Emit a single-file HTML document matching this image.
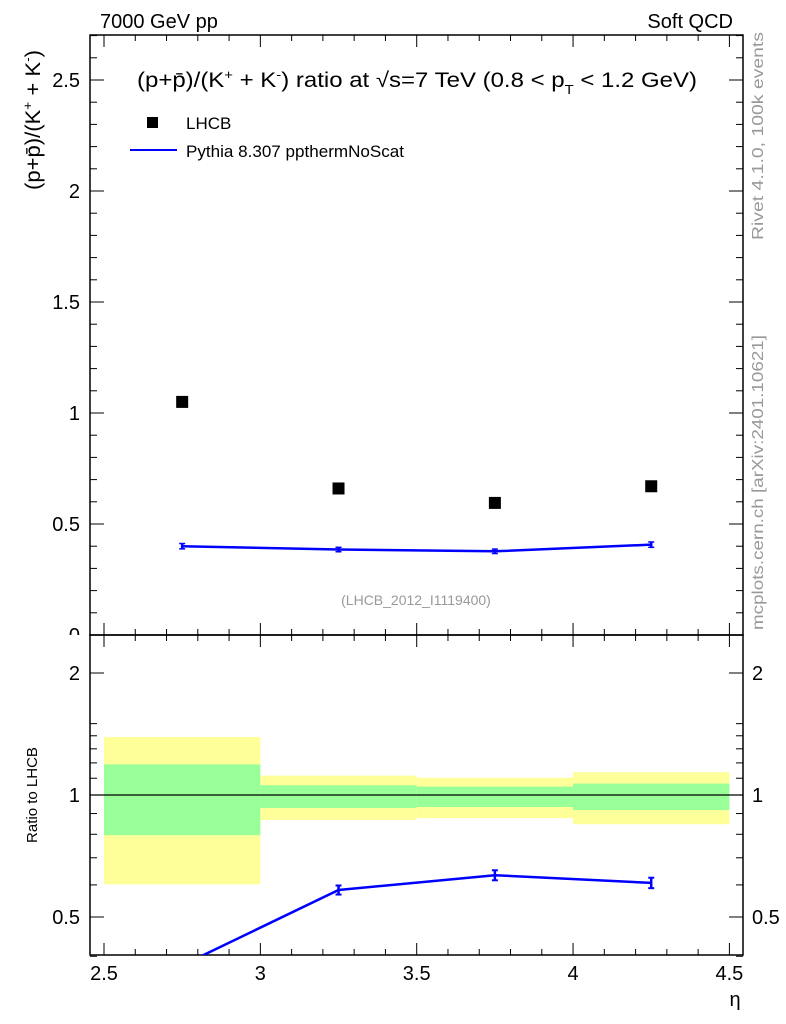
<!DOCTYPE html>
<html><head><meta charset="utf-8"><style>
body{margin:0;background:#fff;}
svg{display:block;font-family:"Liberation Sans",Arial,sans-serif;}
</style></head><body>
<svg id="c" width="786" height="1024" xmlns="http://www.w3.org/2000/svg">
<g id="bands"></g>
<g id="g"></g>
<text x="100" y="28" font-size="20">7000 GeV pp</text>
<text x="733" y="28" font-size="20" text-anchor="end">Soft QCD</text>
<text x="137" y="87" font-size="21" textLength="560" lengthAdjust="spacingAndGlyphs">(p+p̄)/(K<tspan dy="-8" font-size="13">+</tspan><tspan dy="8"> + K</tspan><tspan dy="-8" font-size="13">-</tspan><tspan dy="8">) ratio at √s=7 TeV (0.8 &lt; p</tspan><tspan dy="7" font-size="13">T</tspan><tspan dy="-7"> &lt; 1.2 GeV)</tspan></text>
<rect x="147" y="117" width="11" height="11" fill="#000"/>
<text x="186" y="129" font-size="17">LHCB</text>
<line x1="130" y1="150" x2="177" y2="150" stroke="#0000ff" stroke-width="2"/>
<text x="186" y="157" font-size="17" textLength="218" lengthAdjust="spacingAndGlyphs">Pythia 8.307 ppthermNoScat</text>
<text x="416" y="605" font-size="14" fill="#999" text-anchor="middle">(LHCB_2012_I1119400)</text>
<text transform="translate(40,190) rotate(-90)" font-size="21" textLength="140" lengthAdjust="spacingAndGlyphs">(p+p̄)/(K<tspan dy="-8" font-size="13">+</tspan><tspan dy="8"> + K</tspan><tspan dy="-8" font-size="13">-</tspan><tspan dy="8">)</tspan></text>
<text transform="translate(37,795) rotate(-90)" font-size="15" text-anchor="middle">Ratio to LHCB</text>
<text transform="translate(763,240) rotate(-90)" font-size="16" fill="#999" textLength="208" lengthAdjust="spacingAndGlyphs">Rivet 4.1.0,  100k events</text>
<text transform="translate(763,630) rotate(-90)" font-size="16" fill="#999" textLength="295" lengthAdjust="spacingAndGlyphs">mcplots.cern.ch [arXiv:2401.10621]</text>
<text x="735" y="1006" font-size="20" text-anchor="middle">η</text>
</svg>
<script>
const xCenters=[2.75,3.25,3.75,4.25];
const xEdges=[2.5,3.0,3.5,4.0,4.5];
const lhcb=[1.05,0.66,0.595,0.67];
const pythia=[0.40,0.385,0.377,0.407];
const pythiaErr=[0.012,0.01,0.01,0.012];
const ratio=[0.38,0.583,0.634,0.607];
const ratioErr=[0.015,0.015,0.018,0.018];
const yellowHi=[1.39,1.116,1.103,1.138];
const yellowLo=[0.602,0.868,0.877,0.847];
const greenHi=[1.19,1.057,1.049,1.067];
const greenLo=[0.796,0.929,0.934,0.918];
const mainTicks=["0","0.5","1","1.5","2","2.5"];
const ratioTicks=["0.5","1","2"];
const xTicks=["2.5","3","3.5","4","4.5"];

const L=90,R=743,T=35,M=635,B=955;
const sx=v=>104+(v-2.5)*312.7;
const sy=v=>M-v*222;
const ry=v=>795-Math.log2(v)*122;
const NS="http://www.w3.org/2000/svg";
const g=document.getElementById('g'),bg=document.getElementById('bands');
function mk(tag,a,p){const e=document.createElementNS(NS,tag);for(const k in a)e.setAttribute(k,a[k]);(p||g).appendChild(e);return e;}
const defs=mk('defs',{});
const cp=mk('clipPath',{id:'rc'},defs);mk('rect',{x:L,y:M,width:R-L,height:B-M},cp);
const cp2=mk('clipPath',{id:'zc'},defs);mk('rect',{x:0,y:0,width:90,height:M},cp2);
for(let i=0;i<4;i++){
 let e=mk('rect',{x:sx(xEdges[i]),y:ry(yellowHi[i]),width:sx(xEdges[i+1])-sx(xEdges[i]),height:ry(yellowLo[i])-ry(yellowHi[i]),fill:'#ffff99'},bg);
 
 
 e=mk('rect',{x:sx(xEdges[i]),y:ry(greenHi[i]),width:sx(xEdges[i+1])-sx(xEdges[i]),height:ry(greenLo[i])-ry(greenHi[i]),fill:'#99ff99'},bg);
 
 
}
mk('line',{x1:L,x2:R,y1:ry(1),y2:ry(1),stroke:'#000','stroke-width':1.2});
mk('rect',{x:L,y:T,width:R-L,height:M-T,fill:'none',stroke:'#000','stroke-width':1.5});
mk('rect',{x:L,y:M,width:R-L,height:B-M,fill:'none',stroke:'#000','stroke-width':1.5});
for(let v=2.5;v<=4.5001;v+=0.1){const x=sx(v);const maj=Math.abs(v*2-Math.round(v*2))<1e-6;const l=maj?12:6;
 for(const [y0,d] of [[T,1],[M,-1],[M,1],[B,-1]])mk('line',{x1:x,x2:x,y1:y0,y2:y0+d*l,stroke:'#000','stroke-width':1});}
xTicks.forEach(t=>{const e=mk('text',{x:sx(+t),y:980,'font-size':20,'text-anchor':'middle'});e.textContent=t;
 
 });
for(let k=0;k<=27;k++){const y=sy(k/10);const l=k%5==0?14:7;
 mk('line',{x1:L,x2:L+l,y1:y,y2:y,stroke:'#000'});mk('line',{x1:R,x2:R-l,y1:y,y2:y,stroke:'#000'});}
mainTicks.forEach(t=>{const e=mk('text',{x:80,y:sy(+t)+7,'font-size':20,'text-anchor':'end'});e.textContent=t;
 if(t==="0")e.setAttribute('clip-path','url(#zc)');
 
 });
const rt=[0.4,0.5,0.6,0.7,0.8,0.9,1,1.1,1.2,1.3,1.4,1.5,2];
rt.forEach(v=>{const y=ry(v);const maj=[0.5,1,2].includes(v);const l=maj?14:7;
 mk('line',{x1:L,x2:L+l,y1:y,y2:y,stroke:'#000'});mk('line',{x1:R,x2:R-l,y1:y,y2:y,stroke:'#000'});});
ratioTicks.forEach(t=>{for(const [x,a] of [[80,'end'],[752,'start']]){const e=mk('text',{x:x,y:ry(+t)+7,'font-size':20,'text-anchor':a});e.textContent=t;
 
 }});
let pts=xCenters.map((x,i)=>sx(x)+','+sy(pythia[i])).join(' ');
let pl=mk('polyline',{points:pts,fill:'none',stroke:'#0000ff','stroke-width':2.5});


xCenters.forEach((x,i)=>{const X=sx(x);const a=sy(pythia[i]+pythiaErr[i]),b=sy(pythia[i]-pythiaErr[i]);
 mk('line',{x1:X,x2:X,y1:a,y2:b,stroke:'#0000ff','stroke-width':2.5});
 mk('line',{x1:X-3,x2:X+3,y1:a,y2:a,stroke:'#0000ff','stroke-width':1.5});
 mk('line',{x1:X-3,x2:X+3,y1:b,y2:b,stroke:'#0000ff','stroke-width':1.5});
 const r=mk('rect',{x:X-6,y:sy(lhcb[i])-6,width:12,height:12,fill:'#000'});
 
 });
const rg=mk('g',{'clip-path':'url(#rc)'});
pts=xCenters.map((x,i)=>sx(x)+','+ry(ratio[i])).join(' ');
pl=mk('polyline',{points:pts,fill:'none',stroke:'#0000ff','stroke-width':2.5},rg);


xCenters.forEach((x,i)=>{const X=sx(x);const a=ry(ratio[i]+ratioErr[i]),b=ry(ratio[i]-ratioErr[i]);
 mk('line',{x1:X,x2:X,y1:a,y2:b,stroke:'#0000ff','stroke-width':2.5},rg);
 mk('line',{x1:X-3,x2:X+3,y1:a,y2:a,stroke:'#0000ff','stroke-width':2},rg);
 mk('line',{x1:X-3,x2:X+3,y1:b,y2:b,stroke:'#0000ff','stroke-width':2},rg);});
</script>
</body></html>
